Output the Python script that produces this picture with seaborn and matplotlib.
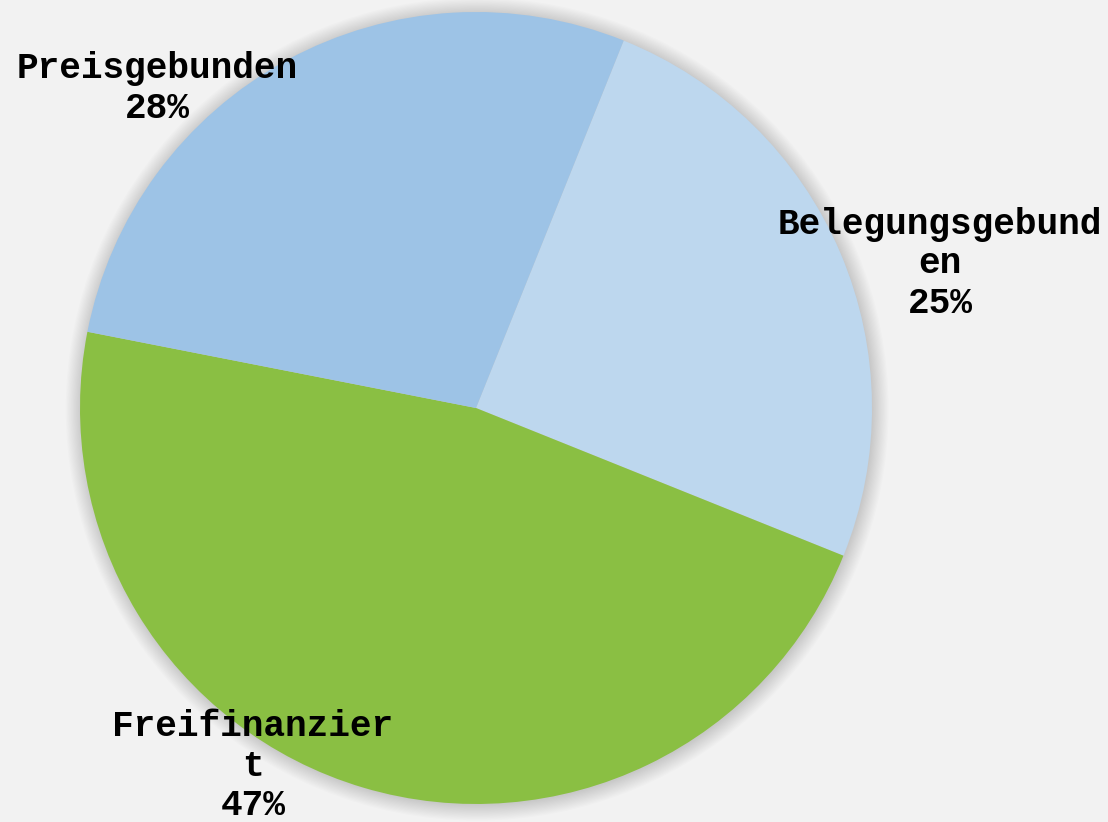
import matplotlib
matplotlib.use("Agg")
import matplotlib.pyplot as plt
from matplotlib.patches import Circle
import seaborn as sns

sns.set_theme(style="white")
plt.rcParams['font.family'] = ['Liberation Mono', 'DejaVu Sans Mono']

# data
categories = ["Belegungsgebunden", "Freifinanziert", "Preisgebunden"]
shares = [25, 47, 28]
label_text = ["Belegungsgebund\nen", "Freifinanzier\nt", "Preisgebunden"]
colors = ["#bdd7ee", "#8abf43", "#9dc3e6"]

bg = "#f2f2f2"
fig = plt.figure(figsize=(11.08, 8.22), dpi=100, facecolor=bg)
# pie centre at (476, 408) px, radius ~396 px
cx, cy, r = 476, 408, 396
ax = fig.add_axes([(cx - r) / 1108, (822 - cy - r) / 822, 2 * r / 1108, 2 * r / 822])
ax.set_facecolor(bg)

# soft shadow around the pie
for i in range(14):
    ax.add_patch(Circle((0.003, -0.003), 1.0 + i * 0.003, facecolor="black",
                        edgecolor="none", alpha=0.013, zorder=0, clip_on=False))

wedges, _ = ax.pie(shares, colors=colors, startangle=68.1, counterclock=False,
                   radius=1.0, wedgeprops=dict(linewidth=0))
for w in wedges:
    w.set_zorder(1)

# label positions in data units (pie radius = 1)
label_pos = [(1.172, 0.364), (-0.563, -0.905), (-0.806, 0.807)]
for txt, val, (x, y) in zip(label_text, shares, label_pos):
    ax.text(x, y, f"{txt}\n{val}%", ha="center", va="center", multialignment="center",
            fontsize=26, fontweight="bold", color="black", linespacing=1.17,
            clip_on=False, zorder=5)

ax.set_xlim(-1, 1)
ax.set_ylim(-1, 1)
ax.set_aspect("equal")
ax.axis("off")

fig.savefig("out.png", dpi=100, facecolor=bg)
